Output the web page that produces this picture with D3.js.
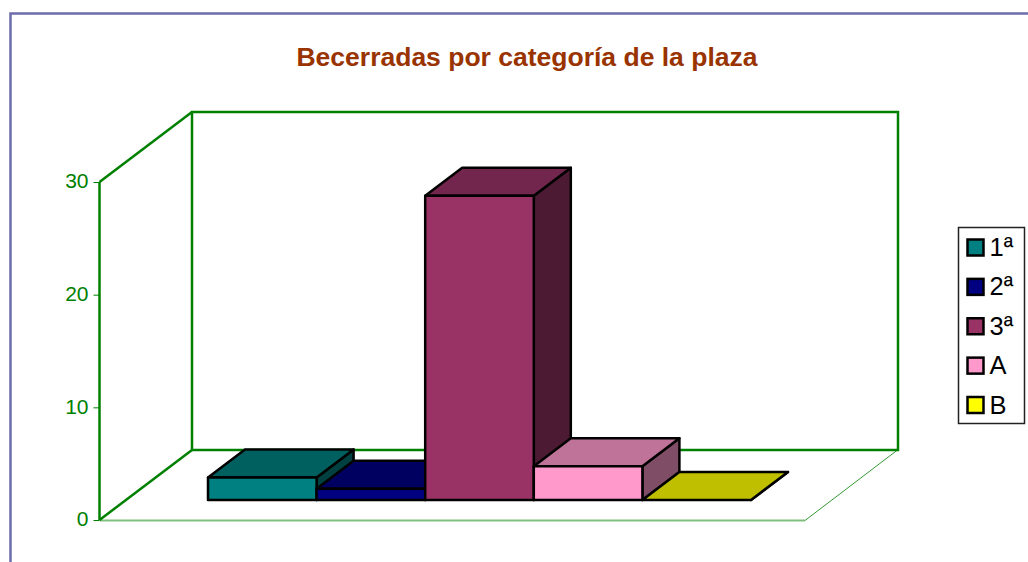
<!DOCTYPE html>
<html>
<head>
<meta charset="utf-8">
<script src="https://cdn.jsdelivr.net/npm/d3@7"></script>
<style>
    html, body { margin: 0; padding: 0; background: #fff; overflow: hidden; }
    text { font-family: "Liberation Sans", Arial, sans-serif; }
</style>
</head>
<body>
<div id="chart-container"></div>
<script>
    const categories = ['1ª', '2ª', '3ª', 'A', 'B'];
    const values = [2, 1, 27, 3, 0];
    const colors = ['#008080', '#000080', '#993366', '#ff99cc', '#ffff00'];
    const yTicks = [0, 10, 20, 30];
    const titleText = 'Becerradas por categoría de la plaza';

    const width = 1028;
    const height = 562;
    const green = '#008000';

    const chart = d3
        .select('#chart-container')
        .append('svg')
        .attr('width', width)
        .attr('height', height);

    // page frame, only top and left are in view
    chart.append('path')
        .attr('d', 'M10.5,562V13.5H1028')
        .attr('fill', 'none')
        .attr('stroke', '#6c6cab')
        .attr('stroke-width', 2.5);

    chart.append('text')
        .attr('x', 527)
        .attr('y', 65.5)
        .attr('text-anchor', 'middle')
        .attr('font-size', '26.5px')
        .attr('font-weight', 'bold')
        .attr('fill', '#993300')
        .text(titleText);

    const y = d3.scaleLinear().domain([0, 30]).range([520, 182]);
    const x = d3.scaleBand().domain(categories).range([208, 751]);

    // walls, floor depth is the shift from the front corner to the back corner
    const wallDx = 92.5;
    const wallDy = -70;
    const floorRight = 805;
    const left = 99.5;
    const back = left + wallDx;

    const wall = chart.append('g').attr('fill', 'none').attr('stroke', green).attr('stroke-width', 2.5);
    wall.append('rect')
        .attr('x', back)
        .attr('y', y(30) + wallDy)
        .attr('width', 706)
        .attr('height', y(0) - y(30));
    wall.append('path').attr('d', `M${left},${y(30)}V${y(0)}`);
    wall.append('path').attr('d', `M${left},${y(30)}L${back},${y(30) + wallDy}`);
    wall.append('path').attr('d', `M${left},${y(0)}L${back},${y(0) + wallDy}`);

    // thin front floor edges
    chart.append('path')
        .attr('d', `M${left},${y(0) + 0.5}H${floorRight}`)
        .attr('fill', 'none')
        .attr('stroke', green)
        .attr('stroke-width', 2)
        .attr('opacity', 0.5);
    chart.append('path')
        .attr('d', `M${floorRight},${y(0) + 0.5}L${floorRight + wallDx},${y(0) + wallDy}`)
        .attr('fill', 'none')
        .attr('stroke', green)
        .attr('stroke-width', 1)
        .attr('opacity', 0.8);

    const axis = d3.axisLeft(y).tickValues(yTicks).tickSize(6).tickPadding(5);
    const axisG = chart.append('g')
        .attr('transform', `translate(${left},0)`)
        .call(axis);
    axisG.select('.domain').remove();
    axisG.selectAll('line').attr('stroke', green);
    axisG.selectAll('text')
        .attr('fill', green)
        .attr('font-size', '21px')
        .attr('dy', '0.28em')
        .style('font-family', '"Liberation Sans", Arial, sans-serif');

    // bars, drawn left to right so each one covers the side of the previous one
    const barLift = 20;
    const barDx = 37;
    const barDy = -28;
    const bars = chart.selectAll('g.bar')
        .data(categories)
        .enter()
        .append('g')
        .attr('class', 'bar')
        .attr('stroke', '#000')
        .attr('stroke-width', 2.5)
        .attr('stroke-linejoin', 'round');

    const shade = (c, k) => {
        const r = d3.rgb(c);
        return d3.rgb(r.r * k, r.g * k, r.b * k).formatHex();
    };

    bars.each(function (d, i) {
        const g = d3.select(this);
        const x0 = x(d);
        const x1 = x0 + x.bandwidth();
        const base = y(0) - barLift;
        const top = y(values[i]) - barLift;
        // side
        g.append('path')
            .attr('d', `M${x1},${base}L${x1 + barDx},${base + barDy}V${top + barDy}L${x1},${top}Z`)
            .attr('fill', shade(colors[i], 0.5));
        // top
        g.append('path')
            .attr('d', `M${x0},${top}L${x0 + barDx},${top + barDy}H${x1 + barDx}L${x1},${top}Z`)
            .attr('fill', shade(colors[i], 0.75));
        // front
        g.append('rect')
            .attr('x', x0)
            .attr('y', top)
            .attr('width', x1 - x0)
            .attr('height', base - top)
            .attr('fill', colors[i]);
    });

    // legend
    const legendY = d3.scalePoint().domain(categories).range([247.5, 405]);
    const legend = chart.append('g');
    legend.append('rect')
        .attr('x', 958.5)
        .attr('y', 227.5)
        .attr('width', 66)
        .attr('height', 196)
        .attr('fill', '#fff')
        .attr('stroke', '#222')
        .attr('stroke-width', 1.5);
    categories.forEach((c, i) => {
        legend.append('rect')
            .attr('x', 967.5)
            .attr('y', legendY(c) - 8)
            .attr('width', 16)
            .attr('height', 16)
            .attr('fill', colors[i])
            .attr('stroke', '#000')
            .attr('stroke-width', 2.5);
        legend.append('text')
            .attr('x', 989.5)
            .attr('y', legendY(c) + 8.5)
            .attr('font-size', '25.5px')
            .attr('fill', '#000')
            .text(c);
    });
</script>
</body>
</html>
